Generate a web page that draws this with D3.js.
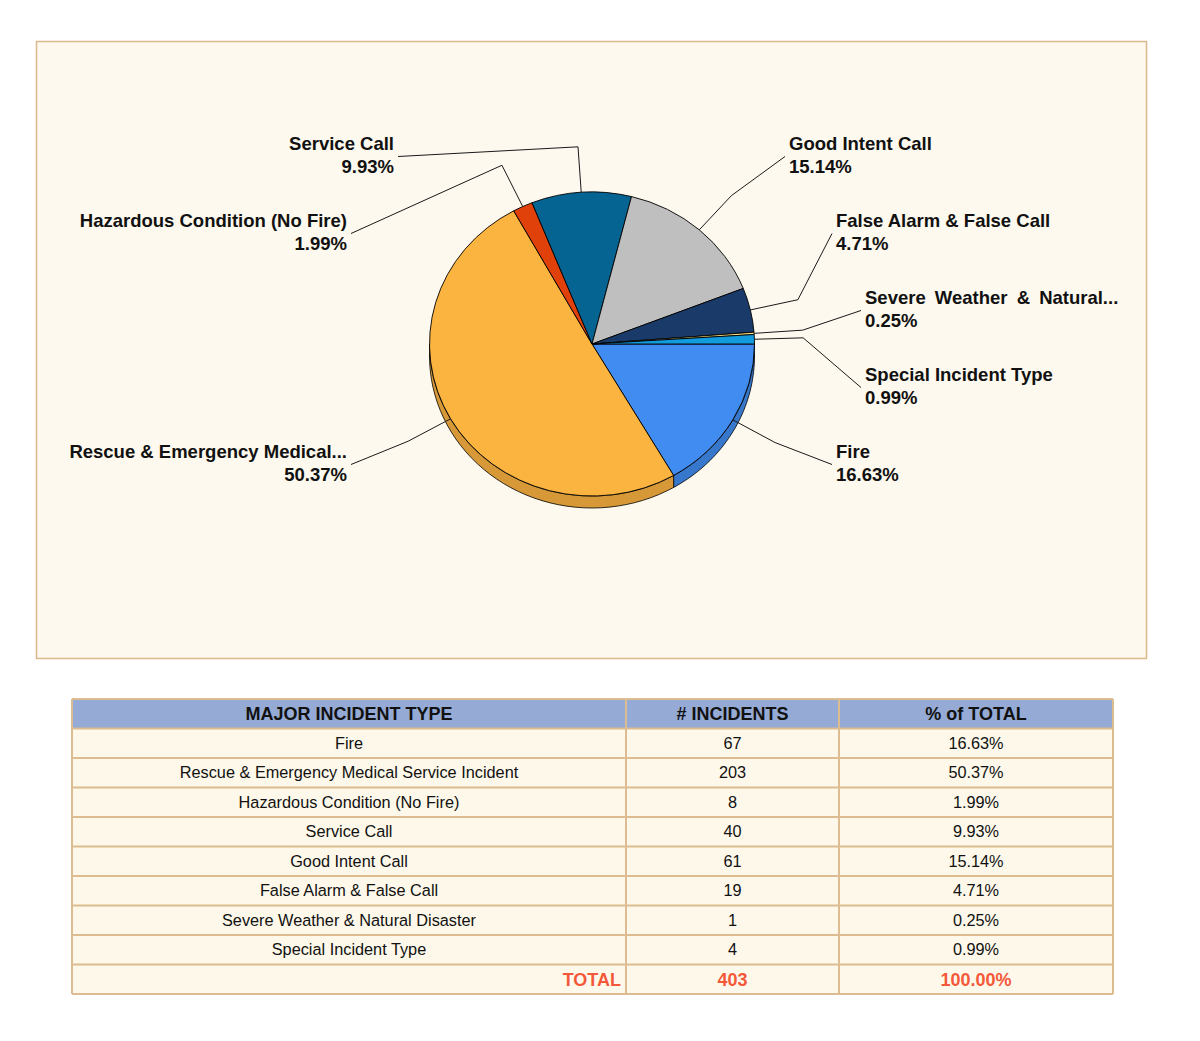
<!DOCTYPE html>
<html>
<head>
<meta charset="utf-8">
<script src="https://cdn.jsdelivr.net/npm/d3@7"></script>
<style>
  body { margin: 0; background: #ffffff; }
  text { font-family: "Liberation Sans", Arial, sans-serif; }
</style>
</head>
<body>
<div id="vis"></div>
<script>
// incident data
const categories = ["Fire", "Rescue & Emergency Medical Service Incident", "Hazardous Condition (No Fire)",
  "Service Call", "Good Intent Call", "False Alarm & False Call", "Severe Weather & Natural Disaster",
  "Special Incident Type"];
const pieLabels = ["Fire", "Rescue & Emergency Medical...", "Hazardous Condition (No Fire)",
  "Service Call", "Good Intent Call", "False Alarm & False Call", "Severe Weather & Natural...",
  "Special Incident Type"];
const incidents = [67, 203, 8, 40, 61, 19, 1, 4];
const colors = ["#418cf0", "#fcb441", "#e0400a", "#056492", "#bfbfbf", "#1a3b69", "#ffe382", "#129cdd"];
const headers = ["MAJOR INCIDENT TYPE", "# INCIDENTS", "% of TOTAL"];

// label placement (layout only)
const labelPos = [
  { x: 836, y: 452, anchor: "start" },
  { x: 347, y: 452, anchor: "end" },
  { x: 347, y: 221, anchor: "end" },
  { x: 394, y: 144, anchor: "end" },
  { x: 789, y: 144, anchor: "start" },
  { x: 836, y: 221, anchor: "start" },
  { x: 865, y: 298, anchor: "start", spacing: 4 },
  { x: 865, y: 375, anchor: "start" }
];

const total = d3.sum(incidents);
const pct = v => (v / total * 100).toFixed(2) + "%";

const W = 1200, H = 1041;
const svg = d3.select("#vis").append("svg").attr("width", W).attr("height", H);

// chart panel
svg.append("rect")
  .attr("x", 36.5).attr("y", 41.5).attr("width", 1110).attr("height", 617)
  .attr("fill", "#fdf9ee").attr("stroke", "#dcb98c").attr("stroke-width", 1.5);

const cx = 592, cy = 344, rx = 162.5, ry = 152, depth = 12;

const pie = d3.pie().sort(null).startAngle(Math.PI / 2).endAngle(Math.PI / 2 + 2 * Math.PI);
const arcs = pie(incidents);

// d3 angle (0 = 12 o'clock, clockwise) -> point on ellipse
const pt = (a, k = 1, dy = 0) => [cx + rx * k * Math.sin(a), cy - ry * k * Math.cos(a) + dy];

// side wall of the front half
const sideG = svg.append("g");
arcs.forEach((d, i) => {
  const a0 = Math.max(d.startAngle, Math.PI / 2);
  const a1 = Math.min(d.endAngle, 3 * Math.PI / 2);
  if (a1 <= a0) return;
  const steps = d3.range(0, 41).map(j => a0 + (a1 - a0) * j / 40);
  const pts = steps.map(a => pt(a)).concat(steps.slice().reverse().map(a => pt(a, 1, depth)));
  sideG.append("path")
    .attr("d", d3.line()(pts) + "Z")
    .attr("fill", d3.color(colors[i]).darker(0.45))
    .attr("stroke", "#000").attr("stroke-width", 0.8);
});

// top face
const arc = d3.arc().innerRadius(0).outerRadius(rx);
svg.append("g")
  .attr("transform", `translate(${cx},${cy}) scale(1,${ry / rx})`)
  .selectAll("path")
  .data(arcs)
  .join("path")
  .attr("d", arc)
  .attr("fill", (d, i) => colors[i])
  .attr("stroke", "#000")
  .attr("stroke-width", 0.9)
  .attr("vector-effect", "non-scaling-stroke");

// leader lines and labels
const labG = svg.append("g");
arcs.forEach((d, i) => {
  const mid = (d.startAngle + d.endAngle) / 2;
  const lp = labelPos[i];
  const end = [lp.anchor === "start" ? lp.x - 4 : lp.x + 4, lp.y + 12.5];
  labG.append("path")
    .attr("d", d3.line()([pt(mid), pt(mid, 1.3), end]))
    .attr("fill", "none").attr("stroke", "#1a1a1a").attr("stroke-width", 1);
  const t = labG.append("text")
    .attr("text-anchor", lp.anchor)
    .attr("font-size", 18.5).attr("font-weight", "bold").attr("fill", "#111");
  t.append("tspan").attr("x", lp.x).attr("y", lp.y).attr("dy", "0.35em")
    .attr("word-spacing", lp.spacing || 0).text(pieLabels[i]);
  t.append("tspan").attr("x", lp.x).attr("y", lp.y + 23).attr("dy", "0.35em").text(pct(incidents[i]));
});

// table
const tx0 = 72, tx1 = 1113, colX = [72, 626, 839, 1113], ty0 = 699, rowH = 29.5;
const rows = categories.map((c, i) => [c, String(incidents[i]), pct(incidents[i])]);
const tbl = svg.append("g");
const nRows = rows.length + 2;

tbl.append("rect").attr("x", tx0).attr("y", ty0).attr("width", tx1 - tx0).attr("height", rowH)
  .attr("fill", "#95abd6");
tbl.append("rect").attr("x", tx0).attr("y", ty0 + rowH).attr("width", tx1 - tx0).attr("height", rowH * (nRows - 1))
  .attr("fill", "#fdf8ea");

d3.range(nRows + 1).forEach(r => {
  tbl.append("line").attr("x1", tx0).attr("x2", tx1)
    .attr("y1", ty0 + r * rowH).attr("y2", ty0 + r * rowH)
    .attr("stroke", "#dcbc90").attr("stroke-width", 2);
});
colX.forEach(x => {
  tbl.append("line").attr("x1", x).attr("x2", x).attr("y1", ty0).attr("y2", ty0 + nRows * rowH)
    .attr("stroke", "#dcbc90").attr("stroke-width", 2);
});

const colC = [349, 732.5, 976];
headers.forEach((h, j) => {
  tbl.append("text").attr("x", colC[j]).attr("y", ty0 + rowH / 2).attr("dy", "0.35em")
    .attr("text-anchor", "middle").attr("font-size", 18).attr("font-weight", "bold").attr("fill", "#111")
    .text(h);
});
rows.forEach((row, r) => {
  row.forEach((v, j) => {
    tbl.append("text").attr("x", colC[j]).attr("y", ty0 + (r + 1.5) * rowH).attr("dy", "0.35em")
      .attr("text-anchor", "middle").attr("font-size", 16.3).attr("fill", "#111")
      .text(v);
  });
});
const totalRow = ["TOTAL", String(total), (100).toFixed(2) + "%"];
const ty = ty0 + (rows.length + 1.5) * rowH;
totalRow.forEach((v, j) => {
  tbl.append("text")
    .attr("x", j === 0 ? colX[1] - 5 : colC[j]).attr("y", ty).attr("dy", "0.35em")
    .attr("text-anchor", j === 0 ? "end" : "middle")
    .attr("font-size", 18).attr("font-weight", "bold").attr("fill", "#f4583a")
    .text(v);
});
</script>
</body>
</html>
